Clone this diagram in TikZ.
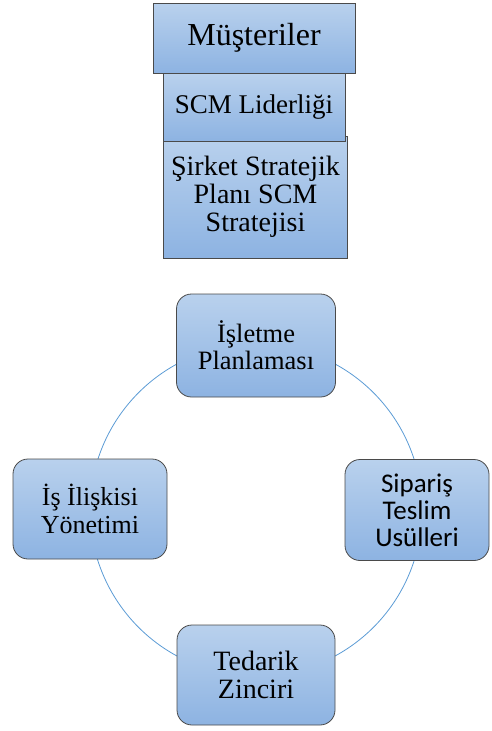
\documentclass[tikz,border=0pt]{standalone}
\usepackage{fontspec}
\setmainfont{Liberation Serif}
\newfontfamily\calfont{Carlito}
\begin{document}
\begin{tikzpicture}[x=1pt,y=-1pt,
  boxfill/.style={top color=topblue,bottom color=botblue,draw=edgegray,line width=0.8pt},
  sqbox/.style={boxfill,rectangle,align=center,inner sep=0pt},
  rbox/.style={boxfill,rectangle,rounded corners=15pt,align=center,inner sep=0pt},
  ring/.style={draw=ringblue,line width=0.8pt}]
\definecolor{topblue}{HTML}{B9D1ED}
\definecolor{botblue}{HTML}{8DB3E2}
\definecolor{edgegray}{HTML}{4A4A4A}
\definecolor{ringblue}{HTML}{5B9BD5}
\useasboundingbox (0,0) rectangle (491,731);
% circle
\coordinate (c) at (256,510);
\draw[ring] (c) circle[radius=166];
% top stack
\node[sqbox,minimum width=184pt,minimum height=122pt,font=\fontsize{28}{28}\selectfont] (plan) at (255.5,197) {Şirket Stratejik\\Planı SCM\\Stratejisi};
\node[sqbox,minimum width=182pt,minimum height=68pt,font=\fontsize{27}{28}\selectfont] (lider) at (254,107) {SCM Liderliği};
\node[sqbox,minimum width=202pt,minimum height=70pt,font=\fontsize{32}{34}\selectfont] (must) at (254,38) {Müşteriler};
% cycle nodes
\node[rbox,minimum width=159pt,minimum height=103pt,font=\fontsize{26.5}{27}\selectfont] (isl) at (256,345.5) {İşletme\\Planlaması};
\node[rbox,minimum width=154pt,minimum height=100pt,font=\fontsize{26}{28}\selectfont] (iliski) at (90,509) {İş İlişkisi\\Yönetimi};
\node[rbox,minimum width=144pt,minimum height=101pt,font=\calfont\fontsize{27}{27}\selectfont] (sip) at (417,510) {Sipariş\\Teslim\\Usülleri};
\node[rbox,minimum width=158pt,minimum height=100pt,font=\fontsize{28}{28}\selectfont] (ted) at (256,675) {Tedarik\\Zinciri};
\end{tikzpicture}
\end{document}
